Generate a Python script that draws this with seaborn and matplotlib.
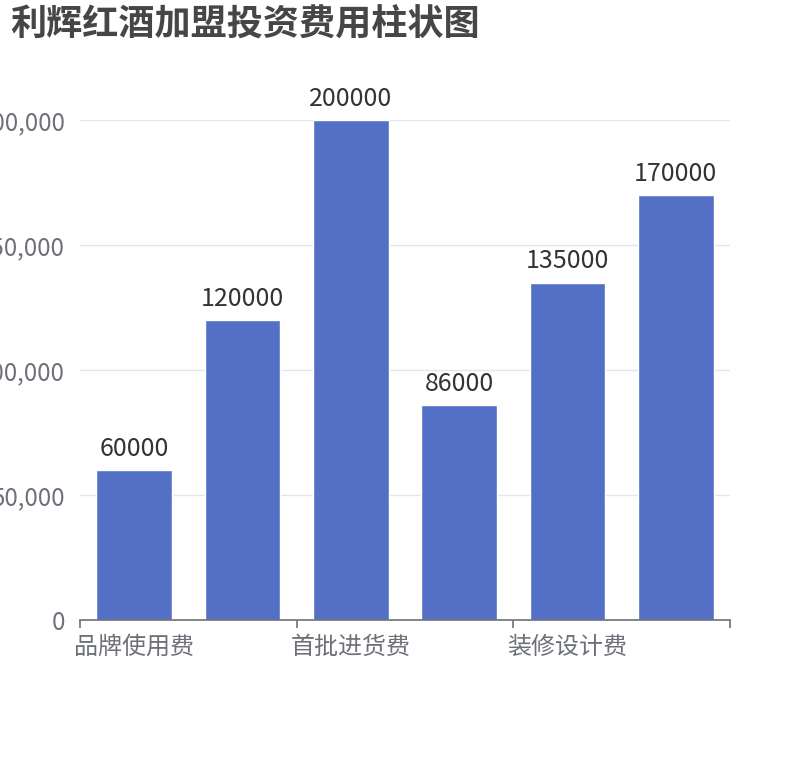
import matplotlib
matplotlib.use("Agg")
import matplotlib.pyplot as plt
import seaborn as sns
import pandas as pd
from matplotlib.ticker import FuncFormatter, FixedLocator

categories = ["品牌使用费", "加盟费", "首批进货费", "保证金", "装修设计费", "其他费用"]
values = [60000, 120000, 200000, 86000, 135000, 170000]
shown_labels = {0: "品牌使用费", 2: "首批进货费", 4: "装修设计费"}
title = "利辉红酒加盟投资费用柱状图"

sns.set_theme(style="white")
plt.rcParams['font.family'] = ['Noto Sans CJK SC', 'DejaVu Sans']

W, H = 810, 760
fig = plt.figure(figsize=(W / 100, H / 100), dpi=100)
ax = fig.add_axes([80 / W, (H - 620) / H, (730 - 80) / W, (620 - 120) / H])

df = pd.DataFrame({"cat": categories, "val": values})
sns.barplot(data=df, x="cat", y="val", color="#5470c6", saturation=1, width=0.7, ax=ax)

ax.set_xlim(-0.5, len(categories) - 0.5)
ax.set_ylim(0, 200000)
ax.set_yticks([0, 50000, 100000, 150000, 200000])
ax.yaxis.set_major_formatter(FuncFormatter(lambda v, p: f"{int(v):,}"))
ax.grid(axis="y", color="#E0E6F1", linewidth=1)
ax.set_axisbelow(True)

ax.xaxis.set_major_locator(FixedLocator(list(shown_labels.keys())))
ax.set_xticklabels(list(shown_labels.values()))
ax.xaxis.set_minor_locator(FixedLocator([-0.5, 1.5, 3.5, 5.5]))
ax.tick_params(axis="x", which="major", length=0, pad=10, labelsize=17.3, labelcolor="#6E7079")
ax.tick_params(axis="x", which="minor", length=6, width=1.2, color="#6E7079", direction="out", bottom=True)
ax.tick_params(axis="y", length=0, pad=11, labelsize=17.3, labelcolor="#6E7079")

for s in ["top", "right", "left"]:
    ax.spines[s].set_visible(False)
ax.spines["bottom"].set_color("#6E7079")
ax.spines["bottom"].set_linewidth(1.2)
ax.set_xlabel("")
ax.set_ylabel("")

for c in ax.containers:
    ax.bar_label(c, labels=[str(v) for v in values], padding=6, fontsize=18, color="#333333", clip_on=False)

fig.text(10 / W, 1 - 7 / H, title, ha="left", va="top", fontsize=26, fontweight="bold", color="#464646")

fig.savefig("out.png", dpi=100)
